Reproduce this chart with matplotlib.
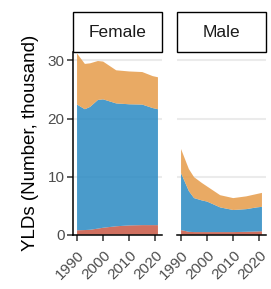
import matplotlib.pyplot as plt
from matplotlib.patches import Rectangle
import numpy as np

plt.rcParams['font.family'] = ['Liberation Sans', 'DejaVu Sans']

years = [1990, 1993, 1995, 1998, 2000, 2005, 2010, 2015, 2019, 2021]

# stacked tops (thousand)
female_red = [0.76, 0.8, 0.85, 1.05, 1.2, 1.45, 1.6, 1.65, 1.65, 1.65]
female_blue_top = [22.4, 21.6, 22.0, 23.2, 23.3, 22.6, 22.45, 22.4, 21.8, 21.6]
female_total = [31.2, 29.4, 29.5, 29.9, 29.8, 28.3, 28.1, 28.0, 27.3, 27.1]

male_red = [0.8, 0.5, 0.45, 0.45, 0.45, 0.45, 0.45, 0.5, 0.55, 0.6]
male_blue_top = [10.6, 7.5, 6.3, 5.9, 5.7, 4.7, 4.25, 4.4, 4.7, 4.8]
male_total = [14.75, 11.3, 9.9, 8.9, 8.3, 6.8, 6.3, 6.6, 7.0, 7.2]

panels = ['Female', 'Male']
xticks = [1990, 2000, 2010, 2020]
yticks = [0, 10, 20, 30]
colors = ['#C85744', '#2A8AC2', '#E69B49']

fig = plt.figure(figsize=(2.71, 2.89), dpi=100)
W, H = 271, 289
boxes = [(73, 162), (177, 266)]
top_px, bot_px = 52, 234.7
strip_top = 12

data = [(female_red, female_blue_top, female_total),
        (male_red, male_blue_top, male_total)]

for i, (name, (l, r), (red, bt, tot)) in enumerate(zip(panels, boxes, data)):
    ax = fig.add_axes([l / W, (H - bot_px) / H, (r - l) / W, (bot_px - top_px) / H])
    red = np.array(red)
    blue = np.array(bt) - red
    orange = np.array(tot) - np.array(bt)
    ax.stackplot(years, red, blue, orange, colors=colors, alpha=0.85,
                 linewidth=0, zorder=2)
    ax.set_xlim(1988.45, 2022.55)
    ax.set_ylim(0, 31.45)
    for y in [10, 20, 30]:
        ax.axhline(y, color='#EBEBEB', lw=1.5, zorder=1)
    for s in ['top', 'right']:
        ax.spines[s].set_visible(False)
    ax.spines['bottom'].set_linewidth(1.1)
    ax.spines['bottom'].set_zorder(3)
    ax.set_xticks(xticks)
    ax.set_xticklabels([str(x) for x in xticks], rotation=45, ha='right',
                       rotation_mode='anchor', color='#4D4D4D', fontsize=11)
    ax.tick_params(axis='x', length=4, width=1.1, color='#333333', pad=6)
    if i == 0:
        ax.spines['left'].set_linewidth(1.1)
        ax.set_yticks(yticks)
        ax.set_yticklabels([str(y) for y in yticks], color='#4D4D4D', fontsize=11)
        ax.tick_params(axis='y', length=4, width=1.1, color='#333333', pad=2)
        ax.set_ylabel('YLDs (Number, thousand)', fontsize=13.5, labelpad=6)
    else:
        ax.spines['left'].set_visible(False)
        ax.set_yticks([])
    sh = (top_px - strip_top) / (bot_px - top_px)
    ax.add_patch(Rectangle((0, 1), 1, sh, transform=ax.transAxes, clip_on=False,
                           facecolor='white', edgecolor='black', lw=1.0))
    ax.text(0.5, 1 + sh / 2, name, transform=ax.transAxes, ha='center',
            va='center', fontsize=12.5, color='#1A1A1A')

fig.savefig('out.png', dpi=100)
